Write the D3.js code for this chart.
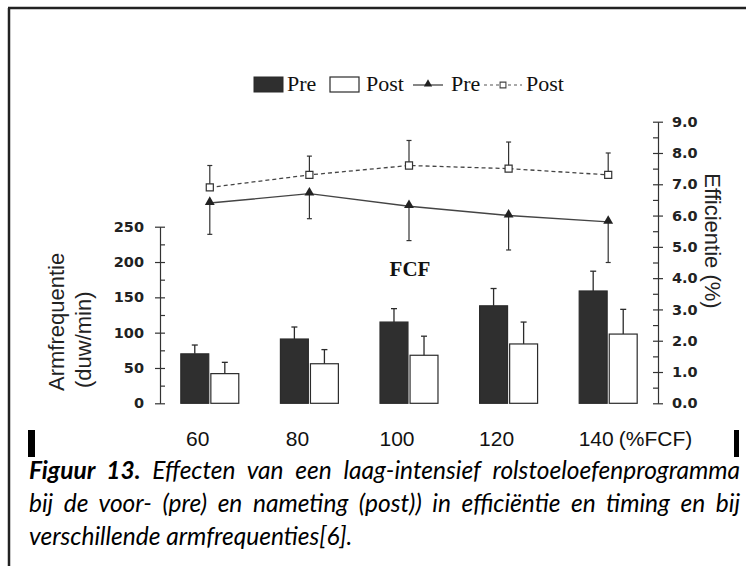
<!DOCTYPE html>
<html>
<head>
<meta charset="utf-8">
<script src="https://cdn.jsdelivr.net/npm/d3@7"></script>
<style>
  body { margin: 0; background: #fff; }
  svg { display: block; }
</style>
</head>
<body>
<script>
// Categories (% FCF) and tick labels
var categories = ["60", "80", "100", "120", "140"];
var xLabels = ["60", "80", "100", "120", "140"];

// Bars: arm frequency (duw/min), left axis
var barPre = [70, 91, 115, 138, 159];
var barPreSD = [12.5, 17, 19, 24.5, 28];
var barPost = [42, 56, 68, 84, 98];
var barPostSD = [16, 20, 27, 31, 35];

// Lines: efficiency (%), right axis
var effPre = [6.4, 6.7, 6.3, 6.0, 5.8];
var effPreSD = [1.0, 0.8, 1.1, 1.1, 1.3];
var effPost = [6.9, 7.3, 7.6, 7.5, 7.3];
var effPostSD = [0.7, 0.6, 0.8, 0.85, 0.7];

// Axis ticks
var leftTicks = [0, 50, 100, 150, 200, 250];
var leftMinorTicks = [0, 25, 50, 75, 100, 125, 150, 175, 200, 225, 250];
var rightTicks = [0, 1, 2, 3, 4, 5, 6, 7, 8, 9];
var rightMinorTicks = [0, 0.5, 1, 1.5, 2, 2.5, 3, 3.5, 4, 4.5, 5, 5.5, 6, 6.5, 7, 7.5, 8, 8.5, 9];

var w = 746, h = 566;
var ink = "#2b2b2b";

var svg = d3.select("body").append("svg")
    .attr("width", w)
    .attr("height", h);

// frame (top + left border)
svg.append("line").attr("x1", 8).attr("x2", w).attr("y1", 8).attr("y2", 8)
    .style("stroke", "#222").style("stroke-width", 2.5);
svg.append("line").attr("x1", 9).attr("x2", 9).attr("y1", 8).attr("y2", h)
    .style("stroke", "#222").style("stroke-width", 2.5);

// scales
var x0 = d3.scaleBand()
    .domain(categories)
    .range([160, 658])
    .paddingInner(0.418)
    .paddingOuter(0.209);

var x1 = d3.scaleBand()
    .domain(["Pre", "Post"])
    .range([0, x0.bandwidth()])
    .paddingInner(0.07);

var yL = d3.scaleLinear().domain([0, 250]).range([403.3, 226.7]);
var yR = d3.scaleLinear().domain([0, 9]).range([403.3, 121.7]);

function cx(c) { return x0(c) + x0.bandwidth() / 2; }

// left axis
svg.append("g")
    .attr("transform", "translate(160,0)")
    .call(d3.axisLeft(yL).tickValues(leftTicks).tickSize(5).tickSizeOuter(0).tickPadding(11));
svg.append("g")
    .attr("transform", "translate(160,0)")
    .call(d3.axisRight(yL).tickValues(leftMinorTicks).tickSize(5).tickFormat(""))
    .call(function(g){ g.select(".domain").remove(); });

// right axis
svg.append("g")
    .attr("transform", "translate(658,0)")
    .call(d3.axisRight(yR).tickValues(rightTicks).tickFormat(d3.format(".1f"))
        .tickSize(5).tickSizeOuter(0).tickPadding(9));
svg.append("g")
    .attr("transform", "translate(658,0)")
    .call(d3.axisLeft(yR).tickValues(rightMinorTicks).tickSize(5).tickFormat(""))
    .call(function(g){ g.select(".domain").remove(); });

svg.selectAll(".domain, .tick line")
    .style("stroke", "#333")
    .style("stroke-width", 1.2);
svg.selectAll(".tick text")
    .style("font-family", "'DejaVu Sans', sans-serif")
    .style("font-weight", "bold")
    .style("font-size", "14.5px")
    .style("fill", "#222");

// axis titles
svg.append("text")
    .attr("transform", "translate(64,391) rotate(-90)")
    .style("font-family", "'Liberation Sans', Arial, sans-serif")
    .style("font-size", "22px")
    .style("fill", "#222")
    .text("Armfrequentie");
svg.append("text")
    .attr("transform", "translate(91,388) rotate(-90)")
    .style("font-family", "'Liberation Sans', Arial, sans-serif")
    .style("font-size", "22px")
    .style("fill", "#222")
    .text("(duw/min)");
svg.append("text")
    .attr("transform", "translate(705,241) rotate(90)")
    .attr("text-anchor", "middle")
    .style("font-family", "'Liberation Sans', Arial, sans-serif")
    .style("font-size", "22px")
    .style("fill", "#222")
    .text("Efficientie (%)");

// bars
var barData = categories.map(function(c, i){
    return [
        { c: c, key: "Pre", v: barPre[i], sd: barPreSD[i] },
        { c: c, key: "Post", v: barPost[i], sd: barPostSD[i] }
    ];
}).flat();

svg.selectAll(".bar")
    .data(barData)
    .enter()
    .append("rect")
    .attr("class", "bar")
    .attr("x", function(d){ return x0(d.c) + x1(d.key); })
    .attr("width", x1.bandwidth())
    .attr("y", function(d){ return yL(d.v); })
    .attr("height", function(d){ return yL(0) - yL(d.v); })
    .style("fill", function(d){ return d.key === "Pre" ? "#2f2f2f" : "#fff"; })
    .style("stroke", ink)
    .style("stroke-width", 1.2);

// bar error bars (upward)
var barErr = svg.selectAll(".barErr")
    .data(barData)
    .enter()
    .append("g")
    .attr("class", "barErr")
    .style("stroke", ink)
    .style("stroke-width", 1.3);
barErr.append("line")
    .attr("x1", function(d){ return x0(d.c) + x1(d.key) + x1.bandwidth() / 2; })
    .attr("x2", function(d){ return x0(d.c) + x1(d.key) + x1.bandwidth() / 2; })
    .attr("y1", function(d){ return yL(d.v); })
    .attr("y2", function(d){ return yL(d.v + d.sd); });
barErr.append("line")
    .attr("x1", function(d){ return x0(d.c) + x1(d.key) + x1.bandwidth() / 2 - 3; })
    .attr("x2", function(d){ return x0(d.c) + x1(d.key) + x1.bandwidth() / 2 + 3; })
    .attr("y1", function(d){ return yL(d.v + d.sd); })
    .attr("y2", function(d){ return yL(d.v + d.sd); });

// efficiency lines
var preLine = categories.map(function(c, i){ return { c: c, v: effPre[i], sd: effPreSD[i] }; });
var postLine = categories.map(function(c, i){ return { c: c, v: effPost[i], sd: effPostSD[i] }; });

var line = d3.line()
    .x(function(d){ return cx(d.c); })
    .y(function(d){ return yR(d.v); });

// error bars: pre goes down, post goes up
function errBars(data, dir, cls) {
    var g = svg.selectAll("." + cls)
        .data(data)
        .enter()
        .append("g")
        .attr("class", cls)
        .style("stroke", "#333")
        .style("stroke-width", 1.2);
    g.append("line")
        .attr("x1", function(d){ return cx(d.c); })
        .attr("x2", function(d){ return cx(d.c); })
        .attr("y1", function(d){ return yR(d.v); })
        .attr("y2", function(d){ return yR(d.v + dir * d.sd); });
    g.append("line")
        .attr("x1", function(d){ return cx(d.c) - 2.5; })
        .attr("x2", function(d){ return cx(d.c) + 2.5; })
        .attr("y1", function(d){ return yR(d.v + dir * d.sd); })
        .attr("y2", function(d){ return yR(d.v + dir * d.sd); });
}
errBars(preLine, -1, "preErr");
errBars(postLine, 1, "postErr");

svg.append("path")
    .datum(preLine)
    .attr("d", line)
    .style("fill", "none")
    .style("stroke", "#444")
    .style("stroke-width", 1.4);

svg.append("path")
    .datum(postLine)
    .attr("d", line)
    .style("fill", "none")
    .style("stroke", "#444")
    .style("stroke-width", 1.3)
    .style("stroke-dasharray", "4,3");

var tri = d3.symbol().type(d3.symbolTriangle).size(42);
var sq = d3.symbol().type(d3.symbolSquare).size(50);

svg.selectAll(".triMark")
    .data(preLine)
    .enter()
    .append("path")
    .attr("class", "triMark")
    .attr("d", tri)
    .attr("transform", function(d){ return "translate(" + cx(d.c) + "," + (yR(d.v) - 1) + ")"; })
    .style("fill", "#222");

svg.selectAll(".sqMark")
    .data(postLine)
    .enter()
    .append("path")
    .attr("class", "sqMark")
    .attr("d", sq)
    .attr("transform", function(d){ return "translate(" + cx(d.c) + "," + yR(d.v) + ")"; })
    .style("fill", "#fff")
    .style("stroke", "#333")
    .style("stroke-width", 1.2);

// FCF label
svg.append("text")
    .attr("x", cx("100") + 1)
    .attr("y", 276)
    .attr("text-anchor", "middle")
    .style("font-family", "'Liberation Serif', 'Times New Roman', serif")
    .style("font-weight", "bold")
    .style("font-size", "21px")
    .style("fill", "#111")
    .text("FCF");

// legend
var legendFont = "'Liberation Serif', 'Times New Roman', serif";
var legY = 91;
svg.append("rect").attr("x", 254).attr("y", 77).attr("width", 29).attr("height", 15)
    .style("fill", "#2f2f2f").style("stroke", ink);
svg.append("rect").attr("x", 330).attr("y", 77).attr("width", 29).attr("height", 15)
    .style("fill", "#fff").style("stroke", ink).style("stroke-width", 1.2);
svg.append("line").attr("x1", 413).attr("x2", 443).attr("y1", 85).attr("y2", 85)
    .style("stroke", "#444").style("stroke-width", 1.3);
svg.append("path").attr("d", d3.symbol().type(d3.symbolTriangle).size(30))
    .attr("transform", "translate(428,84)").style("fill", "#222");
svg.append("line").attr("x1", 484).attr("x2", 522).attr("y1", 85).attr("y2", 85)
    .style("stroke", "#555").style("stroke-width", 1.2).style("stroke-dasharray", "3,3");
svg.append("path").attr("d", d3.symbol().type(d3.symbolSquare).size(34))
    .attr("transform", "translate(503,85)")
    .style("fill", "#fff").style("stroke", "#444").style("stroke-width", 1.1);

var legendLabels = [
    { t: "Pre", x: 287 },
    { t: "Post", x: 366 },
    { t: "Pre", x: 451 },
    { t: "Post", x: 526 }
];
svg.selectAll(".legText")
    .data(legendLabels)
    .enter()
    .append("text")
    .attr("class", "legText")
    .attr("x", function(d){ return d.x; })
    .attr("y", legY)
    .style("font-family", legendFont)
    .style("font-size", "22px")
    .style("fill", "#111")
    .text(function(d){ return d.t; });

// x labels row
var xFont = "'Liberation Sans', Arial, sans-serif";
var xl = svg.selectAll(".xLab")
    .data(xLabels)
    .enter()
    .append("text")
    .attr("class", "xLab")
    .attr("x", function(d, i){ return cx(categories[i]) - 12; })
    .attr("y", 446)
    .attr("text-anchor", "middle")
    .style("font-family", xFont)
    .style("font-size", "21px")
    .style("fill", "#111")
    .text(function(d){ return d; });

var lastBox = xl.filter(function(d, i){ return i === xLabels.length - 1; }).node().getBBox();
svg.append("text")
    .attr("x", lastBox.x + lastBox.width + 5)
    .attr("y", 446)
    .style("font-family", xFont)
    .style("font-size", "21px")
    .style("fill", "#111")
    .text("(%FCF)");

// black markers at both ends of the label row
svg.append("rect").attr("x", 28).attr("y", 430).attr("width", 7).attr("height", 27).style("fill", "#000");
svg.append("rect").attr("x", 734).attr("y", 430).attr("width", 5).attr("height", 27).style("fill", "#000");

// caption, first two lines justified by word spacing
var capFont = "Lato, 'Open Sans', sans-serif";
var capSize = "24.5px";
var capW = 711;
function justify(t) {
    var n = t.text().split(" ").length - 1;
    var extra = capW - t.node().getComputedTextLength();
    t.style("word-spacing", (extra / n) + "px");
}
var cap1 = svg.append("text")
    .attr("x", 29).attr("y", 479)
    .style("font-family", capFont).style("font-size", capSize)
    .style("font-style", "italic").style("fill", "#000");
cap1.append("tspan").style("font-weight", "bold").text("Figuur 13.");
cap1.append("tspan").text(" Effecten van een laag-intensief rolstoeloefenprogramma");
justify(cap1);

var cap2 = svg.append("text")
    .attr("x", 29).attr("y", 512)
    .style("font-family", capFont).style("font-size", capSize)
    .style("font-style", "italic").style("fill", "#000")
    .text("bij de voor- (pre) en nameting (post)) in efficiëntie en timing en bij");
justify(cap2);

svg.append("text")
    .attr("x", 29).attr("y", 545)
    .style("font-family", capFont).style("font-size", capSize)
    .style("font-style", "italic").style("fill", "#000")
    .text("verschillende armfrequenties[6].");
</script>
</body>
</html>
